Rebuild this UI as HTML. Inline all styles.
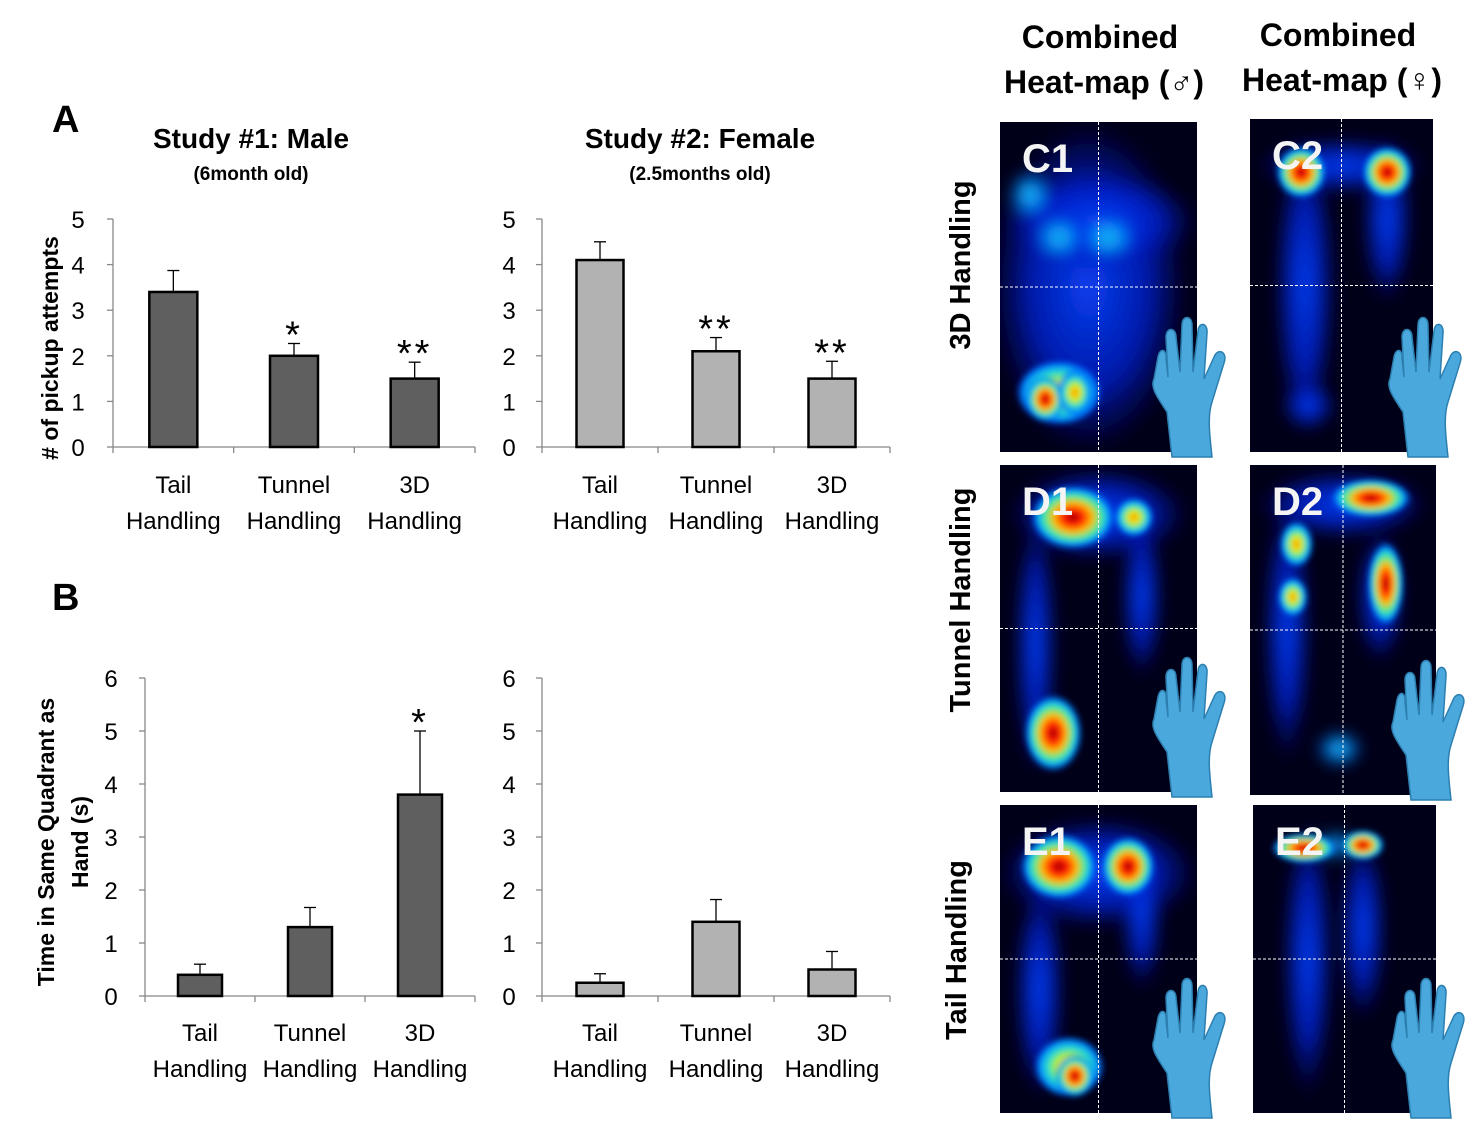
<!DOCTYPE html>
<html><head><meta charset="utf-8"><style>
body{margin:0;background:#fff;width:1468px;height:1127px;overflow:hidden}
svg{display:block}
text{font-family:"Liberation Sans","DejaVu Sans",sans-serif}
.b{font-weight:bold}
</style></head><body>
<svg id="s" width="1468" height="1127">
<defs>
<filter id="blur" x="-50%" y="-50%" width="200%" height="200%"><feGaussianBlur stdDeviation="8"/></filter>
<filter id="soft" x="-50%" y="-50%" width="200%" height="200%"><feGaussianBlur stdDeviation="3"/></filter>
<radialGradient id="hot"><stop offset="0" stop-color="#900000"/><stop offset="0.2" stop-color="#ff1000"/><stop offset="0.45" stop-color="#ffc000"/><stop offset="0.65" stop-color="#40f0a0"/><stop offset="0.82" stop-color="#00a0ff"/><stop offset="1" stop-color="#0030ff" stop-opacity="0"/></radialGradient>
<radialGradient id="warm"><stop offset="0" stop-color="#ff8000"/><stop offset="0.3" stop-color="#e8f000"/><stop offset="0.6" stop-color="#20e0d0"/><stop offset="0.85" stop-color="#0080ff"/><stop offset="1" stop-color="#0030ff" stop-opacity="0"/></radialGradient>
<radialGradient id="cyan"><stop offset="0" stop-color="#30e0e0"/><stop offset="0.5" stop-color="#0090ff"/><stop offset="1" stop-color="#0030ff" stop-opacity="0"/></radialGradient>
<radialGradient id="blue"><stop offset="0" stop-color="#0a40f0"/><stop offset="0.6" stop-color="#0020d0" stop-opacity="0.8"/><stop offset="1" stop-color="#0010b0" stop-opacity="0"/></radialGradient>
</defs>
<text x="52" y="132" font-size="38" class="b">A</text>
<text x="52" y="610" font-size="38" class="b">B</text>
<text x="251" y="148" font-size="28" class="b" text-anchor="middle">Study #1: Male</text>
<text x="251" y="180" font-size="19" class="b" text-anchor="middle">(6month old)</text>
<text x="700" y="148" font-size="28" class="b" text-anchor="middle">Study #2: Female</text>
<text x="700" y="180" font-size="19" class="b" text-anchor="middle">(2.5months old)</text>
<text transform="translate(58,348) rotate(-90)" font-size="23" class="b" text-anchor="middle"># of pickup attempts</text>
<text transform="translate(54,842) rotate(-90)" font-size="23" class="b" text-anchor="middle">Time in Same Quadrant as</text>
<text transform="translate(88,842) rotate(-90)" font-size="23" class="b" text-anchor="middle">Hand (s)</text>
<text x="1100" y="48" font-size="32" class="b" text-anchor="middle">Combined</text>
<text x="1104" y="93" font-size="32" class="b" text-anchor="middle">Heat-map (♂)</text>
<text x="1338" y="46" font-size="32" class="b" text-anchor="middle">Combined</text>
<text x="1342" y="91" font-size="32" class="b" text-anchor="middle">Heat-map (♀)</text>
<text transform="translate(970,265) rotate(-90)" font-size="29" class="b" text-anchor="middle">3D Handling</text>
<text transform="translate(970,600) rotate(-90)" font-size="29" class="b" text-anchor="middle">Tunnel Handling</text>
<text transform="translate(966,950) rotate(-90)" font-size="29" class="b" text-anchor="middle">Tail Handling</text>
<g id="charts"></g>
<g id="maps"></g>
</svg>
<script>
const categories=["Tail","Tunnel","3D"];
const a1Values=[3.4,2.0,1.5];
const a1Errors=[0.47,0.27,0.36];
const a2Values=[4.1,2.1,1.5];
const a2Errors=[0.4,0.3,0.38];
const b1Values=[0.4,1.3,3.8];
const b1Errors=[0.2,0.37,1.2];
const b2Values=[0.25,1.4,0.5];
const b2Errors=[0.17,0.42,0.34];
const a1Stars=["","*","**"];
const a2Stars=["","**","**"];
const b1Stars=["","","*"];
const b2Stars=["","",""];
const aTicks=[0,1,2,3,4,5];
const bTicks=[0,1,2,3,4,5,6];
const NS="http://www.w3.org/2000/svg";
function mk(tag,attrs,parent){const e=document.createElementNS(NS,tag);for(const k in attrs)e.setAttribute(k,attrs[k]);parent.appendChild(e);return e;}
const G=document.getElementById('charts');
function chart(id,x0,x1,y0,y1,ticks,vals,errs,stars,color,bw,tlx,labY){
  const g=mk('g',{},G);
  
  
  const max=ticks[ticks.length-1];
  const Y=v=>y0-(y0-y1)*v/max;
  const n=vals.length,step=(x1-x0)/n;
  const X=i=>x0+step*(i+0.5);
  const ax=mk('line',{x1:x0,y1:y0,x2:x0,y2:y1,stroke:'#888','stroke-width':1.3},g);
  
  
  const xa=mk('line',{x1:x0,y1:y0,x2:x1,y2:y0,stroke:'#888','stroke-width':1.3},g);
  
  
  ticks.forEach(t=>{
    mk('line',{x1:x0-6,y1:Y(t),x2:x0,y2:Y(t),stroke:'#888','stroke-width':1.3},g);
    const tx=mk('text',{x:tlx,y:Y(t)+9,'font-size':24,'text-anchor':'middle'},g);
    tx.textContent=t;
    
    
  });
  for(let i=0;i<=n;i++)mk('line',{x1:x0+step*i,y1:y0,x2:x0+step*i,y2:y0+6,stroke:'#888','stroke-width':1.3},g);
  vals.forEach((v,i)=>{
    const top=Y(v+errs[i]);
    mk('line',{x1:X(i),y1:Y(v),x2:X(i),y2:top,stroke:'#000','stroke-width':1.3},g);
    mk('line',{x1:X(i)-6,y1:top,x2:X(i)+6,y2:top,stroke:'#000','stroke-width':1.3},g);
    const r=mk('rect',{x:X(i)-bw/2,y:Y(v),width:bw,height:y0-Y(v),fill:color,stroke:'#000','stroke-width':2.5},g);
    
    
    if(stars[i]){const s=mk('text',{x:X(i),y:top+4,'font-size':38,'text-anchor':'middle','letter-spacing':3},g);s.textContent=stars[i];
      
      }
    const l1=mk('text',{x:X(i),y:labY,'font-size':24,'text-anchor':'middle'},g);l1.textContent=categories[i];
    
    
    const l2=mk('text',{x:X(i),y:labY+36,'font-size':24,'text-anchor':'middle'},g);l2.textContent='Handling';
    
    
  });
}
chart('chart-a-male',113,475,447,219,aTicks,a1Values,a1Errors,a1Stars,'#5f5f5f',48,78,493);
chart('chart-a-female',542,890,447,219,aTicks,a2Values,a2Errors,a2Stars,'#b2b2b2',47,509,493);
chart('chart-b-male',145,475,996,678,bTicks,b1Values,b1Errors,b1Stars,'#5f5f5f',44,111,1041);
chart('chart-b-female',542,890,996,678,bTicks,b2Values,b2Errors,b2Stars,'#b2b2b2',47,509,1041);
const M=document.getElementById('maps');
const maps=[
 {n:'C1',x:1000,y:122,w:197,h:330,blobs:[['blue',.45,.5,.5,.5],['blue',.5,.3,.5,.15],['cyan',.3,.35,.12,.06],['cyan',.55,.35,.14,.06],['cyan',.15,.22,.1,.07],['warm',.3,.82,.22,.1],['hot',.23,.84,.1,.07],['warm',.38,.82,.09,.07]]},
 {n:'C2',x:1250,y:119,w:183,h:333,blobs:[['blue',.3,.5,.16,.45],['blue',.75,.3,.13,.25],['blue',.5,.14,.45,.08],['hot',.28,.16,.14,.08],['hot',.75,.16,.14,.08],['blue',.32,.86,.14,.07]]},
 {n:'D1',x:1000,y:465,w:197,h:327,blobs:[['blue',.5,.15,.45,.14],['blue',.18,.55,.1,.4],['blue',.72,.4,.1,.25],['hot',.37,.16,.22,.1],['warm',.68,.16,.1,.06],['hot',.27,.82,.15,.12]]},
 {n:'D2',x:1250,y:465,w:186,h:330,blobs:[['blue',.5,.12,.45,.1],['blue',.2,.5,.12,.4],['blue',.7,.4,.12,.2],['hot',.65,.1,.22,.06],['warm',.25,.24,.09,.07],['hot',.73,.36,.1,.13],['warm',.23,.4,.08,.06],['cyan',.48,.86,.12,.05]]},
 {n:'E1',x:1000,y:805,w:197,h:308,blobs:[['blue',.5,.22,.5,.18],['blue',.2,.6,.12,.35],['blue',.72,.35,.1,.25],['hot',.3,.2,.2,.11],['hot',.65,.2,.14,.1],['warm',.35,.85,.18,.1],['hot',.38,.88,.1,.07]]},
 {n:'E2',x:1253,y:805,w:183,h:308,blobs:[['blue',.3,.5,.13,.45],['blue',.6,.4,.12,.3],['hot',.28,.14,.18,.05],['hot',.6,.13,.12,.05],['cyan',.45,.13,.1,.04]]}
];
maps.forEach(m=>{
  const g=mk('g',{},M);
  
  
  const cid='clip'+m.n;
  const cp=mk('clipPath',{id:cid},g);mk('rect',{x:m.x,y:m.y,width:m.w,height:m.h},cp);
  mk('rect',{x:m.x,y:m.y,width:m.w,height:m.h,fill:'#000018'},g);
  const bg=mk('g',{'clip-path':'url(#'+cid+')'},g);
  const bl=mk('g',{filter:'url(#blur)'},bg);
  const sf=mk('g',{filter:'url(#soft)'},bg);
  m.blobs.forEach(b=>{
    const par=(b[0]==='blue'||b[0]==='cyan')?bl:sf;
    mk('ellipse',{cx:m.x+b[1]*m.w,cy:m.y+b[2]*m.h,rx:b[3]*m.w,ry:b[4]*m.h,fill:'url(#'+b[0]+')'},par);
  });
  mk('line',{x1:m.x+m.w/2,y1:m.y,x2:m.x+m.w/2,y2:m.y+m.h,stroke:'#fff','stroke-width':1,'stroke-dasharray':'3,2'},g);
  mk('line',{x1:m.x,y1:m.y+m.h/2,x2:m.x+m.w,y2:m.y+m.h/2,stroke:'#fff','stroke-width':1,'stroke-dasharray':'3,2'},g);
  const t=mk('text',{x:m.x+22,y:m.y+50,'font-size':40,fill:'#f4f4f4','font-weight':'bold'},g);t.textContent=m.n;
  
  
  const gx=m.x+m.w-45,gy=m.y+m.h-135;
  const gl=mk('g',{transform:'translate('+gx+','+gy+')'},g);
  
  
  mk('path',{d:'M20,140 L15,95 C5,80 -2,70 2,62 L6,40 C8,30 15,32 14,42 L16,60 L14,20 C14,10 24,10 24,20 L28,55 L30,8 C30,-2 40,-2 40,8 L41,55 L46,14 C47,4 56,6 55,16 L52,62 L62,40 C66,30 76,35 72,46 L60,85 C55,100 58,120 60,140 Z',fill:'#4aa8dc',stroke:'#2d7fb0','stroke-width':1.5},gl);
});
</script>
</body></html>
